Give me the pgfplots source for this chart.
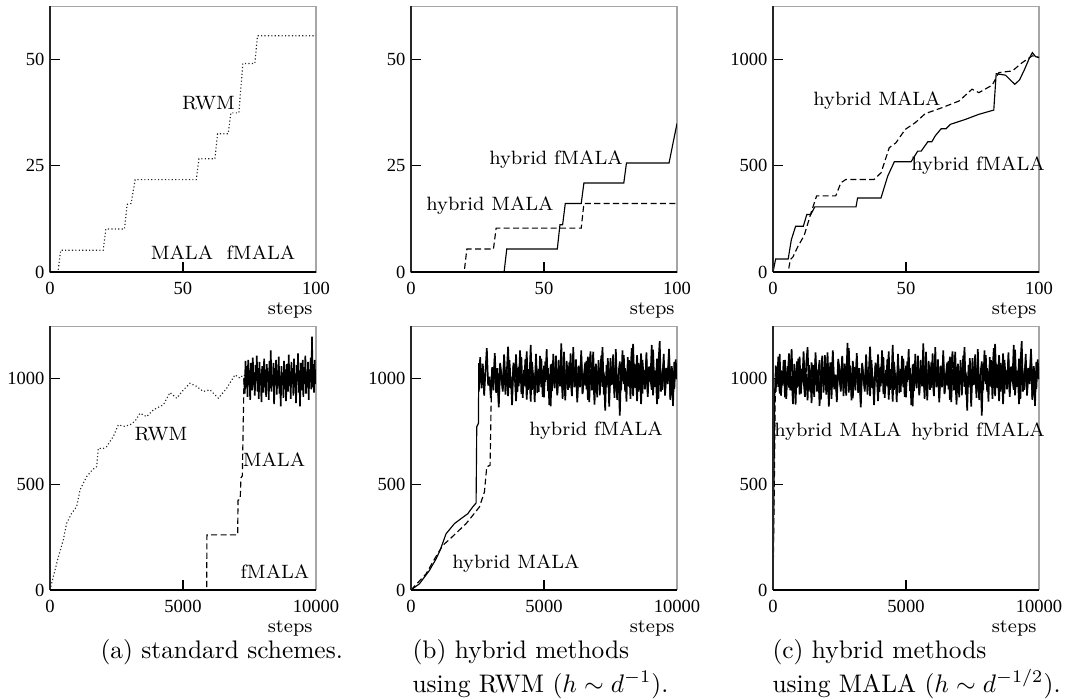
\documentclass[border=0pt]{standalone}
\usepackage{pgfplots}
\pgfplotsset{compat=1.18}
\usepackage{pgfplotstable}
\usepackage{fontspec}
\newfontfamily\tickfont{Liberation Serif}

% noisy equilibrium part of the traces (steps, series a / series b)
\pgfplotstableread{
x a b
0 1010 990
50 948 1075
100 1062 938
150 975 1050
200 1105 962
250 930 1118
300 1040 920
350 968 1032
400 1088 985
450 912 1090
500 1035 905
550 990 1060
600 1120 958
650 945 1025
700 1015 1140
750 880 942
800 1070 1008
850 1002 878
900 958 1082
950 1095 965
1000 925 1105
1050 1048 930
1100 985 1044
1150 1130 992
1200 952 915
1250 1022 1072
1300 898 1150
1350 1065 948
1400 940 1018
1450 1078 885
1500 1003 1066
1550 915 972
1600 1092 1125
1650 960 940
1700 1045 1030
1750 872 1088
1800 1012 902
1850 1110 1055
1900 935 978
1950 1058 1112
2000 978 925
2050 1125 1040
2100 946 868
2150 1030 1078
2200 905 995
2250 1084 1135
2300 962 950
2350 1018 1020
2400 890 912
2450 1066 1094
2500 997 1048
2550 940 962
2600 1102 1108
2650 955 918
2700 1072 1036
2750 920 980
2800 1038 1170
2850 1145 935
2900 968 1062
2950 1010 898
3000 908 1085
3050 1055 1005
3100 982 945
3150 1098 1122
3200 934 970
3250 1026 1050
3300 865 882
3350 1075 1068
3400 1000 1015
3450 950 940
3500 1115 1098
3550 975 925
3600 1042 1030
3650 918 1152
3700 1088 958
3750 990 1010
3800 940 875
3850 1062 1076
3900 1012 992
3950 895 1115
4000 1050 938
4050 965 1058
4100 1135 980
4150 928 1102
4200 1020 910
4250 972 1042
4300 1094 965
4350 902 1130
4400 1046 948
4450 985 1025
4500 1160 892
4550 948 1080
4600 1028 1000
4650 890 955
4700 1070 1118
4750 1005 932
4800 938 1046
4850 1108 978
4900 960 1095
4950 1034 915
5000 912 1062
5050 1082 985
5100 995 1140
5150 1050 942
5200 875 1020
5250 1068 870
5300 942 1072
5350 1118 1008
5400 980 955
5450 1015 1110
5500 930 922
5550 1090 1050
5600 964 975
5650 1040 1168
5700 905 945
5750 1128 1032
5800 972 898
5850 1025 1085
5900 948 1002
5950 1078 958
6000 1000 1120
6050 918 935
6100 1150 1040
6150 960 985
6200 1045 1092
6250 888 908
6300 1062 1055
6350 990 960
6400 1102 1135
6450 935 928
6500 1020 1018
6550 968 1078
6600 1085 950
6650 900 1105
6700 1058 890
6750 1130 1045
6800 945 995
6850 1012 1128
6900 878 938
6950 1072 1060
7000 985 912
7050 1040 1088
7100 922 970
7150 1110 1035
7200 962 1150
7250 1030 925
7300 850 1012
7350 1065 960
7400 998 1098
7450 942 868
7500 1098 1042
7550 970 988
7600 1052 1115
7650 910 935
7700 1140 1065
7750 955 900
7800 1018 1025
7850 826 1082
7900 1060 945
7950 990 1135
8000 1112 975
8050 940 1050
8100 1035 892
8150 972 1102
8200 1088 962
8250 905 1030
8300 1048 1145
8350 1165 918
8400 958 1070
8450 1022 995
8500 895 1112
8550 1075 940
8600 982 1058
8650 1120 880
8700 930 1090
8750 1042 1005
8800 968 950
8850 1096 1125
8900 915 930
8950 1058 1048
9000 1002 985
9050 948 1160
9100 1138 922
9150 962 1040
9200 1028 970
9250 880 1095
9300 1070 905
9350 1178 1065
9400 940 1010
9450 1015 948
9500 1085 1118
9550 920 935
9600 1045 1052
9650 975 990
9700 1125 1142
9750 900 912
9800 1060 1030
9850 1010 872
9900 952 1080
9950 1092 1005
10000 1000 1000
}\noise

% MALA trace of panel (a) after it reaches equilibrium
\pgfplotstableread{
x y
7300 1005
7325 930
7350 1085
7375 960
7400 1060
7425 915
7450 1090
7475 985
7500 1040
7525 900
7550 1075
7575 1010
7600 945
7625 1100
7650 970
7675 1030
7700 920
7725 1065
7750 990
7775 1110
7800 940
7825 1050
7850 905
7875 1080
7900 975
7925 1025
7950 890
7975 1060
8000 1000
8025 935
8050 1095
8075 960
8100 1045
8125 915
8150 1070
8175 985
8200 1035
8225 900
8250 1085
8275 955
8300 1135
8325 940
8350 1020
8375 970
8400 1075
8425 880
8450 1050
8475 995
8500 1090
8525 925
8550 1040
8575 965
8600 1105
8625 930
8650 1015
8675 870
8700 1060
8725 980
8750 1030
8775 910
8800 1085
8825 950
8850 1045
8875 895
8900 1070
8925 1000
8950 940
8975 1115
9000 965
9025 1035
9050 905
9075 1080
9100 975
9125 1050
9150 920
9175 1095
9200 960
9225 1025
9250 885
9275 1065
9300 990
9325 1120
9350 935
9375 1040
9400 870
9425 1075
9450 1000
9475 945
9500 1090
9525 915
9550 1055
9575 975
9600 1110
9625 930
9650 1035
9675 960
9700 1080
9725 900
9750 1045
9775 985
9800 1100
9825 950
9850 1200
9875 960
9900 1070
9925 935
9950 1090
9975 975
10000 1040
}\noiseA

\pgfplotsset{
  panel/.style={
    scale only axis, width=104.8pt, xmin=0, ymin=0,
    tick align=inside, xtick pos=lower, ytick pos=left,
    major tick length=3.8pt,
    axis line style={draw=gray!70, line width=0.4pt},
    every tick/.append style={black, line width=0.5pt},
    tick label style={font=\tickfont\fontsize{7.3}{8}\selectfont},
    yticklabel style={anchor=east, inner sep=0pt, xshift=-2pt},
    xticklabel style={anchor=north, inner sep=0pt, yshift=-4pt},
    /pgf/number format/assume math mode=true,
    /pgf/number format/1000 sep={},
    scaled ticks=false,
    every axis plot/.append style={line width=0.45pt, black},
    after end axis/.code={
      \draw[black!85, line width=0.45pt] (rel axis cs:0,1) -- (rel axis cs:0,0);
      \draw[black, line width=0.7pt] (rel axis cs:0,0) -- (rel axis cs:1,0);
    },
  },
  toprow/.style={panel, height=104.8pt, xmax=100, xtick={0,50,100}},
  botrow/.style={panel, height=104.0pt, xmax=10000, xtick={0,5000,10000},
    ymax=1250, ytick={0,500,1000}},
  rwm/.style={black!85, dash pattern=on 0.45pt off 0.9pt},
  mala/.style={black, dash pattern=on 2.4pt off 1.3pt},
  fmala/.style={black, solid},
  noisy/.style={black, solid, line width=0.65pt, line join=bevel},
}

\begin{document}
\begin{tikzpicture}[x=0.394pt, y=-0.394pt]
\useasboundingbox (0,0) rectangle (1074,699);
\coordinate (A1) at (50,6);
\coordinate (B1) at (411,6);
\coordinate (C1) at (773,6);
\coordinate (A2) at (50,326);
\coordinate (B2) at (411,326);
\coordinate (C2) at (773,326);

% (a) top
\begin{axis}[toprow, at={(A1)}, anchor=north west, ymax=62.5, ytick={0,25,50}]
\addplot[rwm] coordinates {(0,0) (3,0) (4,5.1) (20,5.1) (21,10.1) (28,10.1) (29,15.9) (30.5,16.1) (32,21.7) (55,21.7) (56,26.6) (62,26.6) (63,32.5) (67,32.5) (68,37.4) (71,37.4) (72.5,49) (77,49) (78,55.5) (100,55.5)};
\addplot[mala] coordinates {(0,0) (100,0)};
\addplot[fmala] coordinates {(0,0) (100,0)};
\end{axis}

% (b) top
\begin{axis}[toprow, at={(B1)}, anchor=north west, ymax=62.5, ytick={0,25,50}]
\addplot[mala] coordinates {(0,0) (20,0) (21,5.4) (31,5.4) (32,10.3) (64,10.3) (65,16.1) (100,16.1)};
\addplot[fmala] coordinates {(0,0) (35,0) (36,5.4) (55,5.4) (56,11.1) (57,11.1) (58,16.1) (64,16.1) (65,20.9) (80,20.9) (81,25.6) (97,25.6) (100,34.9)};
\end{axis}

% (c) top
\begin{axis}[toprow, at={(C1)}, anchor=north west, ymax=1250, ytick={0,500,1000}]
\addplot[mala] coordinates {(0,0) (5.7,0) (6.5,58) (7.5,71) (9.4,121) (11.7,171) (14.5,286) (16.4,358) (23.6,358) (25.5,419) (27.4,435) (38,435) (40.6,466) (43.7,584) (46.2,607) (49.7,670) (53.5,702) (57.2,744) (63.5,772) (70,804) (74.8,859) (77.4,843) (82.4,878) (84.9,937) (90,945) (93.7,984) (97.5,1016) (100,1008)};
\addplot[fmala] coordinates {(0,0) (1,61) (5.7,61) (6.9,152) (8.5,215) (11.4,215) (12.7,270) (14.2,270) (15.7,306) (31.2,306) (31.8,348) (40.6,348) (43.1,450) (45.6,518) (51.9,518) (54.4,568) (55.7,568) (58.2,612) (59.7,612) (61,640) (63.2,673) (65,673) (66.7,694) (72.3,717) (77.4,741) (83,761) (83.9,932) (87.4,925) (90.9,882) (92.7,903) (94.6,953) (96.2,1000) (97.5,1031) (98.7,1012) (100,1008)};
\end{axis}

% (a) bottom
\begin{axis}[botrow, at={(A2)}, anchor=north west]
\addplot[rwm] coordinates {(0,0) (300,150) (500,237) (627,316) (800,360) (1003,395) (1128,474) (1378,537) (1600,570) (1754,584) (1817,671) (2000,670) (2130,679) (2381,727) (2569,782) (2800,775) (3008,782) (3200,800) (3383,837) (3634,821) (3885,853) (4261,877) (4511,935) (4762,908) (5000,945) (5263,979) (5500,965) (5764,940) (6015,948) (6328,908) (6642,955) (6955,1019) (7143,1003) (7268,1019) (7400,1010) (8000,1000) (9000,1005) (10000,995)};
\addplot[fmala] coordinates {(0,0) (10000,0)};
\addplot[mala] coordinates {(0,0) (5890,0) (5900,261) (7055,261) (7070,425) (7150,430) (7180,531) (7230,540) (7293,995) (7300,1005)};
\addplot[noisy] table[x=x, y=y] {\noiseA};
\end{axis}

% (b) bottom
\begin{axis}[botrow, at={(B2)}, anchor=north west]
\addplot[fmala] coordinates {(0,0) (314,29) (690,92) (941,147) (1100,190) (1317,266) (1631,314) (1882,338) (2133,361) (2300,390) (2447,412) (2472,773) (2535,789) (2547,1074) (2550,940)};
\addplot[noisy, restrict x to domain=2550:10000] table[x=x, y=a] {\noise};
\addplot[mala] coordinates {(0,0) (565,76) (900,150) (1192,211) (1450,240) (1694,269) (2070,314) (2300,350) (2572,393) (2760,464) (2848,583) (2974,591) (3011,876) (3050,1005)};
\addplot[noisy, restrict x to domain=3050:10000] table[x=x, y=b] {\noise};
\end{axis}

% (c) bottom
\begin{axis}[botrow, at={(C2)}, anchor=north west]
\addplot[fmala] coordinates {(0,0) (40,600) (70,980) (100,1062)};
\addplot[noisy, restrict x to domain=100:10000] table[x=x, y=a] {\noise};
\addplot[mala] coordinates {(0,0) (50,500) (90,1000) (100,938)};
\addplot[noisy, restrict x to domain=100:10000] table[x=x, y=b] {\noise};
\end{axis}

% curve labels
\begin{scope}[every node/.style={inner sep=0pt, font=\fontsize{7.6}{9}\selectfont}]
\node at (208.5,103) {RWM};
\node at (182,253) {MALA};
\node at (261,253) {fMALA};
\node at (556,160) {hybrid fMALA};
\node at (490,206) {hybrid MALA};
\node at (877,101) {hybrid MALA};
\node at (978,166) {hybrid fMALA};
\node at (161,434) {RWM};
\node at (274,460) {MALA};
\node at (275,572) {fMALA};
\node at (596,431) {hybrid fMALA};
\node at (516,564) {hybrid MALA};
\node at (838,432) {hybrid MALA};
\node at (978,432) {hybrid fMALA};
% axis labels
\node[anchor=base east] at (313,314) {steps};
\node[anchor=base east] at (675,314) {steps};
\node[anchor=base east] at (1037,314) {steps};
\node[anchor=base east] at (313,632) {steps};
\node[anchor=base east] at (675,632) {steps};
\node[anchor=base east] at (1037,632) {steps};
\end{scope}

% sub-captions
\begin{scope}[every node/.style={inner sep=0pt, anchor=base west, font=\fontsize{10}{12}\selectfont}]
\node at (100,658) {(a) standard schemes.};
\node at (412,658) {(b) hybrid methods};
\node at (412,692) {using RWM ($h\sim d^{-1}$).};
\node at (772,658) {(c) hybrid methods};
\node at (772,692) {using MALA ($h\sim d^{-1/2}$).};
\end{scope}
\end{tikzpicture}
\end{document}
